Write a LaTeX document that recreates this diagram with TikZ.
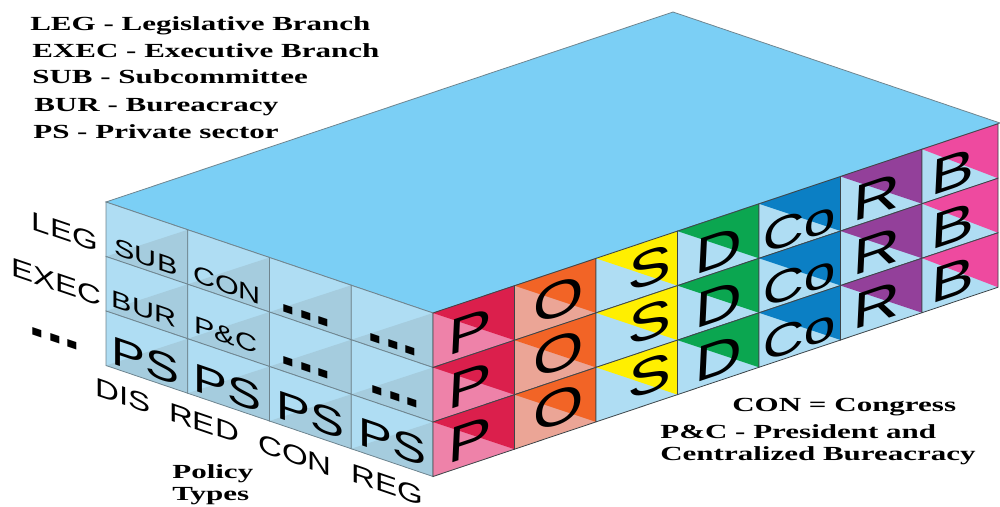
\documentclass[tikz,border=0pt]{standalone}
\usepackage{fontspec}
\setmainfont{Liberation Serif}
\setsansfont{Liberation Sans}

\definecolor{topblue}{HTML}{7BCFF5}
\definecolor{paleblue}{HTML}{AFDDF3}
\definecolor{greyblue}{HTML}{A5CCDE}
\definecolor{edgegrey}{HTML}{6F858F}
\definecolor{edgedark}{HTML}{3C4448}
\definecolor{polred}{HTML}{DB1F4C}
\definecolor{polpink}{HTML}{EE82A9}
\definecolor{polorange}{HTML}{F26426}
\definecolor{polsalmon}{HTML}{EBA596}
\definecolor{polyellow}{HTML}{FFEF00}
\definecolor{polgreen}{HTML}{0BA650}
\definecolor{polblue}{HTML}{0B7FC4}
\definecolor{polpurple}{HTML}{93409A}
\definecolor{polmagenta}{HTML}{EE4A9F}

\tikzset{
  legendtext/.style={font=\bfseries\fontsize{20}{20}\selectfont,inner sep=0pt,anchor=base west,transform shape,xscale=1.55},
  lefttext/.style={font=\sffamily\fontsize{#1}{#1}\selectfont,inner sep=0pt,transform shape,yslant=-0.34,xscale=1.27},
  righttext/.style={font=\sffamily\fontsize{#1}{#1}\selectfont,inner sep=0pt,transform shape,yslant=0.335,xslant=0.05,xscale=1.3},
  leftedge/.style={draw=edgegrey,line width=0.8pt},
  rightedge/.style={draw=edgedark,line width=0.8pt}
}

\begin{document}
\begin{tikzpicture}[x=1pt,y=-1pt]
  \useasboundingbox (0,0) rectangle (1000,506);
  % top of the block
  \fill[topblue,draw=edgegrey,line width=0.8pt] (106,202) -- (433,313) -- (1000,123) -- (673,12) -- cycle;

  % left face
  \foreach \c in {0,...,3}
    \foreach \r in {0,1,2} {
      \coordinate (tl) at ({106+81.75*\c},{202+27.75*\c+54.5*\r});
      \coordinate (tr) at ({106+81.75*(\c+1)},{202+27.75*(\c+1)+54.5*\r});
      \coordinate (bl) at ({106+81.75*\c},{202+27.75*\c+54.5*(\r+1)});
      \coordinate (br) at ({106+81.75*(\c+1)},{202+27.75*(\c+1)+54.5*(\r+1)});
      \fill[paleblue] (tl) -- (tr) -- (br) -- (bl) -- cycle;
      \fill[greyblue] (bl) -- (tr) -- (br) -- cycle;
      \draw[leftedge] (tl) -- (tr) -- (br) -- (bl) -- cycle;
    }

  % right face
  \foreach \c/\dark/\light in {0/polred/polpink,1/polorange/polsalmon,2/polyellow/paleblue,3/polgreen/paleblue,
      4/polblue/paleblue,5/polpurple/paleblue,6/polmagenta/paleblue}
    \foreach \r in {0,1,2} {
      \pgfmathsetmacro{\w}{\c==6 ? 76 : 81.5}
      \coordinate (tl) at ({433+81.5*\c},{313-27.3*\c+54.5*\r});
      \coordinate (tr) at ({433+81.5*\c+\w},{313-27.3*\c-\w*0.335+54.5*\r});
      \coordinate (bl) at ({433+81.5*\c},{313-27.3*\c+54.5*(\r+1)});
      \coordinate (br) at ({433+81.5*\c+\w},{313-27.3*\c-\w*0.335+54.5*(\r+1)});
      \fill[\light] (tl) -- (tr) -- (br) -- (bl) -- cycle;
      \fill[\dark] (tl) -- (tr) -- (br) -- cycle;
      \draw[rightedge] (tl) -- (tr) -- (br) -- (bl) -- cycle;
    }

  % letters on the right face
  \foreach \n/\t/\x/\y/\s in {p/P/470/332/50,o/O/559/300/50,s/S/650/268/50,d/D/719/250/50,co/Co/800/227/44,ri/R/877/197/50,b/B/953/172/50}
    \foreach \r in {0,1,2}
      \node[righttext=\s] (\n\r) at (\x,{\y+54*\r}) {\t};

  % letters on the left face
  \node[lefttext=24] (sub) at (146,257) {SUB};
  \node[lefttext=24] (con) at (227,285) {CON};
  \node[lefttext=24] (bur) at (144,309) {BUR};
  \node[lefttext=24] (pc) at (226,335) {P\&C};
  \foreach \c in {0,...,3}
    \node[lefttext=40] (ps\c) at ({145+82.6*\c},{361+27*\c}) {PS};
  \node[lefttext=50] (dots1) at (306,316) {\textbf{...}};
  \node[lefttext=50] (dots2) at (306,368) {\textbf{...}};
  \node[lefttext=50] (dots3) at (393,345) {\textbf{...}};
  \node[lefttext=50] (dots4) at (395,397) {\textbf{...}};

  % labels round the block
  \node[lefttext=26] (leg) at (65,232) {LEG};
  \node[lefttext=26] (exec) at (56,282) {EXEC};
  \node[lefttext=50] (dots5) at (55,339) {\textbf{...}};
  \node[lefttext=26] (dis) at (123,396) {DIS};
  \node[lefttext=26] (red) at (204,423) {RED};
  \node[lefttext=26] (conb) at (295,455) {CON};
  \node[lefttext=26] (reg) at (387,485) {REG};

  % legends
  \node[legendtext] (legkey) at (30,30) {LEG - Legislative Branch};
  \node[legendtext] (execkey) at (32,57) {EXEC - Executive Branch};
  \node[legendtext] (subkey) at (32,83) {SUB - Subcommittee};
  \node[legendtext] (burkey) at (34,111) {BUR - Bureacracy};
  \node[legendtext] (pskey) at (33,138) {PS - Private sector};
  \node[legendtext] (conkey) at (732,411) {CON = Congress};
  \node[legendtext] (pckey) at (660,438) {P\&C - President and};
  \node[legendtext] (cbkey) at (660,460) {Centralized Bureacracy};
  \node[legendtext] (polkey) at (172,478) {Policy};
  \node[legendtext] (typkey) at (172,500) {Types};
\end{tikzpicture}
\end{document}
